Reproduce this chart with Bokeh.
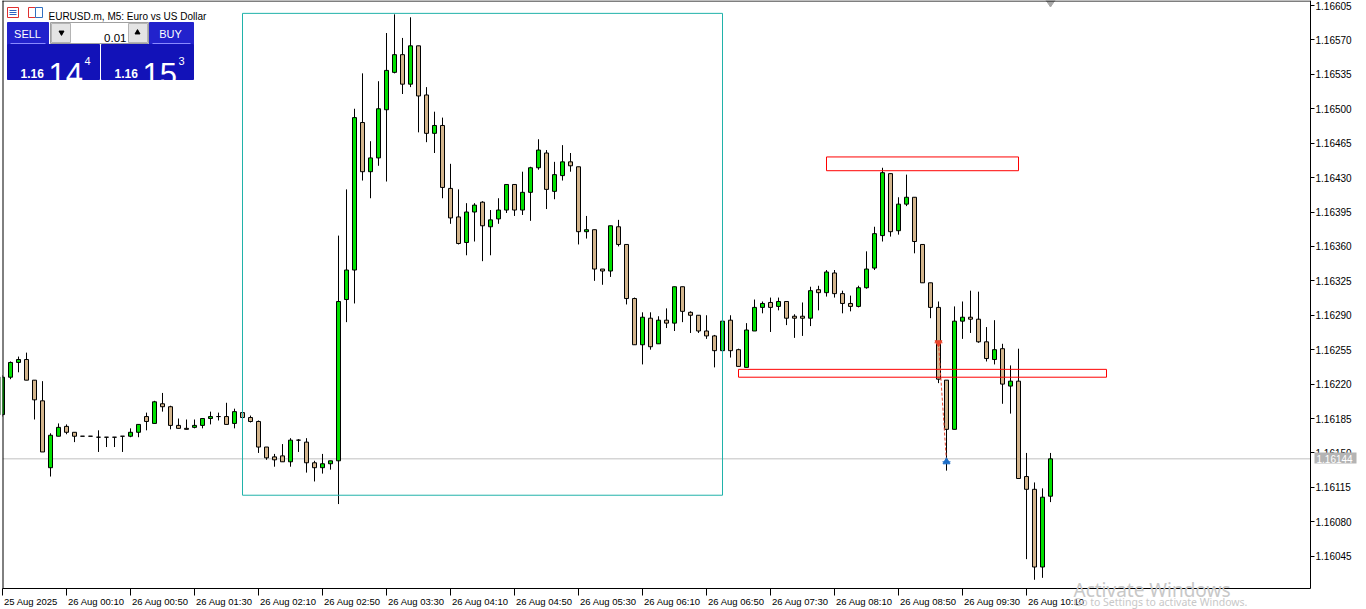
from bokeh.plotting import figure
from bokeh.models import (ColumnDataSource, FixedTicker, PrintfTickFormatter,
                          CustomJSTickFormatter, Range1d)
from bokeh.core.properties import value
from bokeh.embed import file_html
from bokeh.resources import INLINE

# ---------------- data ----------------
chart_title = "EURUSD.m, M5:  Euro vs US Dollar"

opens = [1.16189, 1.16227, 1.16242, 1.16245, 1.16224, 1.16203, 1.16135, 1.16167, 1.16177, 1.16171,
         1.16167, 1.16167, 1.16166, 1.16166, 1.16166, 1.16167, 1.16167, 1.16171, 1.16187, 1.16180,
         1.16200, 1.16197, 1.16178, 1.16175, 1.16176, 1.16178, 1.16185, 1.16187, 1.16187, 1.16180,
         1.16191, 1.16186, 1.16182, 1.16156, 1.16146, 1.16147, 1.16141, 1.16163, 1.16161, 1.16140,
         1.16135, 1.16139, 1.16142, 1.16306, 1.16336, 1.16486, 1.16436, 1.16450, 1.16499, 1.16537,
         1.16555, 1.16525, 1.16564, 1.16514, 1.16475, 1.16483, 1.16419, 1.16390, 1.16364, 1.16395,
         1.16405, 1.16380, 1.16388, 1.16397, 1.16423, 1.16397, 1.16415, 1.16440, 1.16455, 1.16416,
         1.16432, 1.16446, 1.16441, 1.16375, 1.16377, 1.16337, 1.16335, 1.16380, 1.16362, 1.16307,
         1.16260, 1.16287, 1.16261, 1.16285, 1.16282, 1.16319, 1.16293, 1.16290, 1.16274, 1.16269,
         1.16254, 1.16285, 1.16255, 1.16237, 1.16274, 1.16298, 1.16303, 1.16299, 1.16304, 1.16289,
         1.16289, 1.16287, 1.16316, 1.16313, 1.16333, 1.16312, 1.16302, 1.16299, 1.16318, 1.16338,
         1.16371, 1.16434, 1.16376, 1.16403, 1.16410, 1.16362, 1.16323, 1.16298, 1.16224, 1.16174,
         1.16284, 1.16288, 1.16286, 1.16263, 1.16245, 1.16256, 1.16218, 1.16223, 1.16126, 1.16113,
         1.16034, 1.16106]
highs = [1.16229, 1.16243, 1.16248, 1.16252, 1.16224, 1.16223, 1.16170, 1.16180, 1.16179, 1.16171,
         1.16167, 1.16167, 1.16173, 1.16166, 1.16166, 1.16167, 1.16175, 1.16179, 1.16191, 1.16203,
         1.16211, 1.16198, 1.16185, 1.16184, 1.16184, 1.16185, 1.16192, 1.16191, 1.16201, 1.16195,
         1.16192, 1.16188, 1.16183, 1.16156, 1.16149, 1.16159, 1.16165, 1.16164, 1.16165, 1.16142,
         1.16149, 1.16142, 1.16371, 1.16418, 1.16500, 1.16536, 1.16467, 1.16528, 1.16577, 1.16596,
         1.16572, 1.16593, 1.16564, 1.16522, 1.16497, 1.16491, 1.16444, 1.16418, 1.16404, 1.16404,
         1.16406, 1.16397, 1.16409, 1.16423, 1.16423, 1.16436, 1.16441, 1.16469, 1.16458, 1.16446,
         1.16463, 1.16455, 1.16441, 1.16391, 1.16377, 1.16337, 1.16381, 1.16387, 1.16362, 1.16308,
         1.16293, 1.16293, 1.16289, 1.16297, 1.16319, 1.16319, 1.16294, 1.16290, 1.16290, 1.16270,
         1.16285, 1.16290, 1.16256, 1.16282, 1.16306, 1.16304, 1.16308, 1.16308, 1.16304, 1.16291,
         1.16303, 1.16319, 1.16320, 1.16336, 1.16336, 1.16315, 1.16310, 1.16320, 1.16355, 1.16380,
         1.16440, 1.16434, 1.16410, 1.16433, 1.16410, 1.16362, 1.16323, 1.16304, 1.16224, 1.16299,
         1.16304, 1.16315, 1.16314, 1.16278, 1.16285, 1.16261, 1.16239, 1.16256, 1.16150, 1.16120,
         1.16114, 1.16150]
lows = [1.16187, 1.16225, 1.16232, 1.16224, 1.16184, 1.16151, 1.16126, 1.16167, 1.16169, 1.16161,
        1.16167, 1.16167, 1.16151, 1.16156, 1.16156, 1.16151, 1.16166, 1.16166, 1.16173, 1.16180,
        1.16192, 1.16174, 1.16175, 1.16174, 1.16175, 1.16175, 1.16179, 1.16183, 1.16179, 1.16175,
        1.16185, 1.16181, 1.16150, 1.16143, 1.16136, 1.16141, 1.16136, 1.16151, 1.16130, 1.16121,
        1.16129, 1.16133, 1.16098, 1.16283, 1.16302, 1.16427, 1.16409, 1.16442, 1.16426, 1.16536,
        1.16515, 1.16522, 1.16476, 1.16466, 1.16455, 1.16409, 1.16383, 1.16362, 1.16351, 1.16365,
        1.16345, 1.16351, 1.16383, 1.16394, 1.16391, 1.16392, 1.16386, 1.16438, 1.16398, 1.16408,
        1.16427, 1.16436, 1.16362, 1.16368, 1.16325, 1.16321, 1.16329, 1.16360, 1.16301, 1.16260,
        1.16240, 1.16255, 1.16261, 1.16277, 1.16274, 1.16283, 1.16272, 1.16272, 1.16266, 1.16237,
        1.16253, 1.16247, 1.16238, 1.16237, 1.16274, 1.16292, 1.16273, 1.16295, 1.16280, 1.16267,
        1.16269, 1.16279, 1.16295, 1.16309, 1.16308, 1.16292, 1.16294, 1.16298, 1.16317, 1.16336,
        1.16365, 1.16370, 1.16372, 1.16401, 1.16353, 1.16323, 1.16287, 1.16221, 1.16132, 1.16174,
        1.16266, 1.16272, 1.16262, 1.16243, 1.16240, 1.16200, 1.16190, 1.16124, 1.16042, 1.16021,
        1.16023, 1.16100]
closes = [1.16227, 1.16242, 1.16245, 1.16224, 1.16204, 1.16151, 1.16168, 1.16176, 1.16171, 1.16167,
          1.16167, 1.16167, 1.16166, 1.16166, 1.16166, 1.16167, 1.16171, 1.16179, 1.16182, 1.16202,
          1.16197, 1.16178, 1.16175, 1.16174, 1.16178, 1.16185, 1.16187, 1.16187, 1.16179, 1.16192,
          1.16186, 1.16182, 1.16156, 1.16145, 1.16143, 1.16141, 1.16163, 1.16163, 1.16140, 1.16135,
          1.16139, 1.16142, 1.16304, 1.16336, 1.16491, 1.16436, 1.16450, 1.16500, 1.16539, 1.16555,
          1.16525, 1.16564, 1.16513, 1.16475, 1.16483, 1.16420, 1.16389, 1.16363, 1.16395, 1.16402,
          1.16381, 1.16387, 1.16397, 1.16423, 1.16397, 1.16415, 1.16440, 1.16458, 1.16418, 1.16433,
          1.16446, 1.16442, 1.16375, 1.16377, 1.16337, 1.16335, 1.16381, 1.16362, 1.16307, 1.16260,
          1.16288, 1.16258, 1.16285, 1.16282, 1.16319, 1.16294, 1.16290, 1.16274, 1.16269, 1.16254,
          1.16284, 1.16254, 1.16238, 1.16275, 1.16298, 1.16302, 1.16298, 1.16304, 1.16287, 1.16287,
          1.16287, 1.16315, 1.16313, 1.16334, 1.16312, 1.16302, 1.16299, 1.16318, 1.16337, 1.16373,
          1.16435, 1.16375, 1.16403, 1.16410, 1.16365, 1.16323, 1.16298, 1.16225, 1.16174, 1.16284,
          1.16288, 1.16286, 1.16263, 1.16246, 1.16255, 1.16220, 1.16223, 1.16124, 1.16113, 1.16034,
          1.16105, 1.16144]

time_tick_index = [0, 8, 16, 24, 32, 40, 48, 56, 64, 72, 80, 88, 96, 104, 112, 120, 128]
time_labels = ["25 Aug 2025", "26 Aug 00:10", "26 Aug 00:50", "26 Aug 01:30", "26 Aug 02:10",
               "26 Aug 02:50", "26 Aug 03:30", "26 Aug 04:10", "26 Aug 04:50", "26 Aug 05:30",
               "26 Aug 06:10", "26 Aug 06:50", "26 Aug 07:30", "26 Aug 08:10", "26 Aug 08:50",
               "26 Aug 09:30", "26 Aug 10:10"]
price_ticks = [1.16605, 1.16570, 1.16535, 1.16500, 1.16465, 1.16430, 1.16395, 1.16360, 1.16325,
               1.16290, 1.16255, 1.16220, 1.16185, 1.16150, 1.16115, 1.16080, 1.16045]

bid_price = 1.16144
bid_text = "1.16144"

range_box_bars = [30, 90]
range_box_prices = [1.16107, 1.16597]
zone_left = [103, 92]
zone_right = [127, 138]
zone_bottom = [1.16437, 1.16227]
zone_top = [1.16451, 1.16235]

trade_bars = [117, 118]
trade_prices = [1.16262, 1.16141]

lot_text = "0.01"
sell_quote = ["1.16", "14", "4"]
buy_quote = ["1.16", "15", "3"]
watermark = ["Activate Windows", "Go to Settings to activate Windows."]

# ---------------- layout ----------------
W, H = 1366, 609
BAR_PX = 8              # pixels per M5 bar
FIRST_BAR_PX = 2        # screen x of bar 0
PLOT_RIGHT, PLOT_BOTTOM = 1310, 588
PRICE_PER_PX = 1.01689e-5
X0 = -FIRST_BAR_PX / BAR_PX
X1 = X0 + W / BAR_PX
Y_TOP = 1.1661008
Y_BOT = Y_TOP - H * PRICE_PER_PX
UI_FONT = value("Liberation Sans")
AX_FONT = value("Liberation Sans")


def px_x(px):
    return X0 + px / BAR_PX


def px_y(py):
    return Y_TOP - py * PRICE_PER_PX


p = figure(width=W, height=H, x_range=Range1d(X0, X1), y_range=Range1d(Y_BOT, Y_TOP),
           y_axis_location="right", output_backend="svg", toolbar_location=None,
           min_border_left=0, min_border_right=0, min_border_top=0, min_border_bottom=0)
p.grid.visible = False
p.outline_line_color = None
p.background_fill_color = "white"
p.border_fill_color = "white"

# current price line (behind candles)
p.segment(x0=[px_x(FIRST_BAR_PX)], y0=[bid_price], x1=[px_x(PLOT_RIGHT)], y1=[bid_price],
          line_color="#c0c0c0", line_width=1)

# candles
idx = list(range(len(opens)))
body_top = [max(o, c) for o, c in zip(opens, closes)]
body_bot = [min(o, c) for o, c in zip(opens, closes)]
fills = ["#00e000" if c > o else ("#d2b48c" if c < o else "black") for o, c in zip(opens, closes)]
src = ColumnDataSource(dict(x=idx, o=opens, h=highs, l=lows, c=closes,
                            bt=body_top, bb=body_bot, fill=fills))
p.segment(x0="x", y0="l", x1="x", y1="h", source=src, line_color="black", line_width=1)
p.vbar(x="x", width=0.5, top="bt", bottom="bb", source=src, fill_color="fill",
       line_color="black", line_width=1)

# objects
p.quad(left=[range_box_bars[0]], right=[range_box_bars[1]], bottom=[range_box_prices[0]],
       top=[range_box_prices[1]], fill_color=None, line_color="#20b2aa", line_width=1)
p.quad(left=zone_left, right=zone_right, bottom=zone_bottom, top=zone_top,
       fill_color=None, line_color="red", line_width=1)
p.line(trade_bars, trade_prices, line_color="#e8452c", line_width=1, line_dash="3 2")
p.scatter([trade_bars[0]], [trade_prices[0]], marker="inverted_triangle", size=7,
          color="#e8452c")
p.scatter([trade_bars[0]], [trade_prices[0]], marker="dash", size=8, color="#e8452c")
p.scatter([trade_bars[1]], [trade_prices[1]], marker="triangle", size=7, color="#1e6fc8")
p.scatter([trade_bars[1]], [trade_prices[1]], marker="dash", size=8, color="#1e6fc8")

# chart shift marker
p.scatter([px_x(1050)], [px_y(0)], marker="diamond", size=13, color="#a8a8a8")

# mask left of the chart border, then border lines (left, top)
p.quad(left=[X0], right=[px_x(FIRST_BAR_PX)], top=[Y_TOP], bottom=[Y_BOT],
       fill_color="white", line_color=None)
p.segment(x0=[px_x(FIRST_BAR_PX + 0.5)], y0=[Y_TOP], x1=[px_x(FIRST_BAR_PX + 0.5)],
          y1=[px_y(PLOT_BOTTOM)], line_color="black", line_width=1)
p.segment(x0=[px_x(FIRST_BAR_PX)], y0=[px_y(0.5)], x1=[px_x(PLOT_RIGHT)], y1=[px_y(0.5)],
          line_color="black", line_width=1)

# right price axis, drawn at the chart's right edge
ya = p.yaxis[0]
ya.fixed_location = px_x(PLOT_RIGHT)
ya.bounds = (px_y(PLOT_BOTTOM), Y_TOP)
ya.ticker = FixedTicker(ticks=price_ticks)
ya.formatter = PrintfTickFormatter(format="%.5f")
ya.major_tick_out = 4
ya.major_tick_in = 0
ya.minor_tick_out = 0
ya.minor_tick_in = 0
ya.major_label_standoff = 1
ya.major_label_text_font = "Liberation Sans"
ya.major_label_text_font_size = "10px"
ya.major_label_text_color = "black"
ya.axis_line_color = "black"

# bottom time axis (ticks; labels drawn left-aligned next to each tick)
xa = p.xaxis[0]
xa.fixed_location = px_y(PLOT_BOTTOM)
xa.bounds = (px_x(FIRST_BAR_PX), px_x(PLOT_RIGHT))
xa.ticker = FixedTicker(ticks=time_tick_index)
xa.formatter = CustomJSTickFormatter(code="return ''")
xa.major_tick_out = 7
xa.major_tick_in = 0
xa.minor_tick_out = 0
xa.minor_tick_in = 0
xa.axis_line_color = "black"

p.text(x=[tk + 1.5 / BAR_PX for tk in time_tick_index], y=[px_y(601)] * len(time_tick_index),
       text=time_labels, text_align="left", text_baseline="alphabetic",
       text_font=AX_FONT, text_font_size="9.5px", text_color="black")

# current price tag over the axis
p.quad(left=[px_x(1314)], right=[px_x(1356)], top=[px_y(452)], bottom=[px_y(463)],
       fill_color="#b4b4b4", line_color=None, level="overlay")
p.text(x=[px_x(1316)], y=[bid_price], text=[bid_text], text_align="left",
       text_baseline="middle", text_color="white", text_font=AX_FONT,
       text_font_size="10px", level="overlay")

# ---------------- top-left panel ----------------
def q(l, r, t, b, **kw):
    p.quad(left=[px_x(l)], right=[px_x(r)], top=[px_y(t)], bottom=[px_y(b)], **kw)


def t(x, y, s, **kw):
    p.text(x=[px_x(x)], y=[px_y(y)], text=[s], **kw)


# icons
q(7, 18, 7, 17, fill_color="white", line_color="#e03030", line_width=1)
for yy in (10, 12, 14):
    p.segment(x0=[px_x(9)], y0=[px_y(yy)], x1=[px_x(16)], y1=[px_y(yy)],
              line_color="#3060c0", line_width=1)
q(28, 35, 7, 17, fill_color="white", line_color="#e03030", line_width=1)
q(35, 42, 7, 17, fill_color="white", line_color="#3070c0", line_width=1)
t(48, 15.5, chart_title, text_font=UI_FONT, text_font_size="10px",
  text_color="black", text_baseline="alphabetic")

# buttons and boxes
q(7, 48, 22, 44, fill_color="#2222cc", line_color="#2222cc")
q(149, 193, 22, 44, fill_color="#2222cc", line_color="#2222cc")
q(7, 99, 44, 79, fill_color="#1212b8", line_color="#1212b8")
q(101, 193, 44, 79, fill_color="#1212b8", line_color="#1212b8")
p.segment(x0=[px_x(10), px_x(152)], y0=[px_y(43)] * 2, x1=[px_x(45), px_x(190)],
          y1=[px_y(43)] * 2, line_color="#8a8aff", line_width=1)
q(50, 148, 22, 43, fill_color="white", line_color="#a0a0a0")
q(51, 70, 23, 42, fill_color="#e4e4e4", line_color="#b4b4b4")
q(128, 147, 23, 42, fill_color="#e4e4e4", line_color="#b4b4b4")
t(27, 33, "SELL", text_font=UI_FONT, text_font_size="11px",
  text_color="white", text_align="center", text_baseline="middle")
t(170, 33, "BUY", text_font=UI_FONT, text_font_size="11px",
  text_color="white", text_align="center", text_baseline="middle")
p.scatter([px_x(61)], [px_y(32)], marker="inverted_triangle", size=5, color="black")
p.scatter([px_x(137)], [px_y(32)], marker="triangle", size=5, color="black")
t(126, 37, lot_text, text_font=UI_FONT, text_font_size="11.5px",
  text_color="black", text_align="right", text_baseline="alphabetic")

for x_small, x_big, x_sup, quote in ((20, 48, 84, sell_quote), (114, 142, 178, buy_quote)):
    t(x_small, 73, quote[0], text_font=AX_FONT, text_font_size="12px",
      text_font_style="bold", text_color="white", text_baseline="alphabetic")
    t(x_big, 73, quote[1], text_font=AX_FONT, text_font_size="31px",
      text_color="white", text_baseline="alphabetic")
    t(x_sup, 60, quote[2], text_font=AX_FONT, text_font_size="11px",
      text_color="white", text_baseline="alphabetic")

# OS watermark
t(1073, 589, watermark[0], text_font=value("Noto Sans"), text_font_size="19px",
  text_color="#c8c8c8", text_baseline="alphabetic", level="overlay")
t(1073, 601, watermark[1], text_font=value("Noto Sans"), text_font_size="10.5px",
  text_color="#c8c8c8", text_baseline="alphabetic", level="overlay")

html = file_html(p, INLINE, title="EURUSD.m, M5")
html = html.replace("</head>", "<style>html,body{margin:0;padding:0;overflow:hidden;}</style></head>", 1)
open("out.html", "w").write(html)
